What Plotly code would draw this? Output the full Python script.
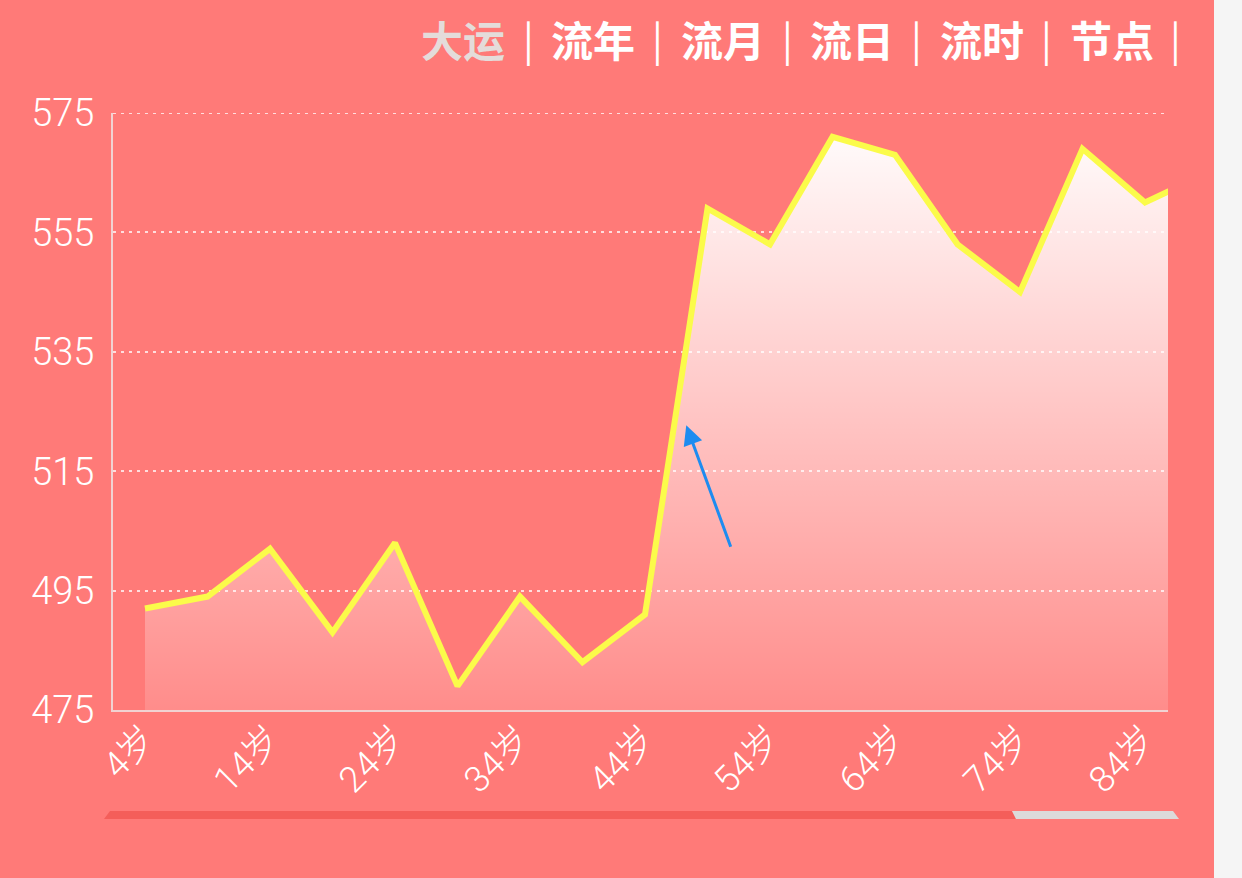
import plotly.graph_objects as go

# ages shown on the axis (one point every 5 years) and the score at each
ages = [4, 9, 14, 19, 24, 29, 34, 39, 44, 49, 54, 59, 64, 69, 74, 79, 84, 89]
scores = [492, 494, 502, 488, 503, 479, 494, 483, 491, 559, 553, 571, 568, 553, 545, 569, 560, 565]

tick_ages = [4, 14, 24, 34, 44, 54, 64, 74, 84]
tick_labels = [f"{a}岁" for a in tick_ages]
y_ticks = [475, 495, 515, 535, 555, 575]

tabs = ["大运", "流年", "流月", "流日", "流时", "节点"]

W, H = 1242, 878
L, R, T, B = 113, 74, 113, 168
BG = "#FF7A78"
GRID = "rgba(255,255,255,0.75)"
GRID_DASH = "3px,5px"


def px(x):
    # page pixel -> paper x
    return (x - L) / (W - L - R)


def py(y):
    # page pixel -> paper y
    return (H - B - y) / (H - T - B)


fig = go.Figure()

fig.add_trace(go.Scatter(
    x=ages,
    y=scores,
    mode="lines",
    line=dict(color="#FBFB4A", width=6),
    fill="tozeroy",
    fillgradient=dict(
        type="vertical",
        start=475,
        stop=575,
        colorscale=[[0, "rgba(255,255,255,0.14)"], [1, "rgba(255,255,255,1)"]],
    ),
    hoverinfo="x+y",
    showlegend=False,
))

# header tabs
annotations = []
for i, t in enumerate(tabs):
    annotations.append(dict(
        x=px(463 + i * 129.8), y=py(38), xref="paper", yref="paper",
        text=t, showarrow=False, xanchor="center", yanchor="middle",
        font=dict(family="Noto Sans CJK SC", size=42,
                  color="#E4DCDA" if i == 0 else "#FFFFFF", weight="bold"),
    ))
    annotations.append(dict(
        x=px(528 + i * 129.5), y=py(38), xref="paper", yref="paper",
        text="|", showarrow=False, xanchor="center", yanchor="middle",
        font=dict(family="Noto Sans CJK SC", size=40, color="#FFFFFF"),
    ))

# blue arrow pointing at the jump
annotations.append(dict(
    x=47.3, y=522.7, xref="x", yref="y", ax=45, ay=123,
    text="", showarrow=True, arrowhead=2, arrowsize=1.3, arrowwidth=3,
    arrowcolor="#1E8CF0",
))

shapes = [
    # top grid line (plotly skips the one on the range edge)
    dict(type="line", xref="paper", yref="y", x0=0, x1=1,
         y0=y_ticks[-1], y1=y_ticks[-1], layer="below",
         line=dict(color=GRID, width=2, dash=GRID_DASH)),
    # zoom slider
    dict(type="path", xref="paper", yref="paper", layer="above",
         path=f"M {px(104)},{py(819)} L {px(110)},{py(811)} L {px(1012)},{py(811)} "
              f"L {px(1016)},{py(819)} Z",
         fillcolor="#F45E5A", line=dict(width=0)),
    dict(type="path", xref="paper", yref="paper", layer="above",
         path=f"M {px(1012)},{py(811)} L {px(1173)},{py(811)} L {px(1179)},{py(819)} "
              f"L {px(1016)},{py(819)} Z",
         fillcolor="#DCDADA", line=dict(width=0)),
    # grey strip on the right edge
    dict(type="rect", xref="paper", yref="paper", layer="above",
         x0=px(1214), x1=px(1250), y0=py(H + 10), y1=py(-10),
         fillcolor="#F5F5F5", line=dict(width=0)),
]

fig.update_layout(
    width=W, height=H,
    margin=dict(l=L, r=R, t=T, b=B),
    paper_bgcolor=BG,
    plot_bgcolor=BG,
    font=dict(family="Liberation Sans", color="#FFFFFF"),
    annotations=annotations,
    shapes=shapes,
    xaxis=dict(
        range=[1.44, 85.84],
        tickmode="array", tickvals=tick_ages, ticktext=tick_labels,
        tickangle=-45, tickfont=dict(size=36, color="#FFFFFF",
                                     family="Roboto, Noto Sans CJK SC", weight=300),
        showgrid=False, zeroline=False,
        showline=True, linecolor="rgba(240,215,215,0.95)", linewidth=2,
        ticks="", ticklabelstandoff=-9,
    ),
    yaxis=dict(
        range=[475, 575],
        tickmode="array", tickvals=y_ticks,
        tickfont=dict(size=38, color="#FFFFFF", family="Roboto", weight=300),
        showgrid=True, gridcolor=GRID, gridwidth=2,
        griddash=GRID_DASH,
        zeroline=False,
        showline=True, linecolor="rgba(240,215,215,0.95)", linewidth=2,
        ticks="", ticklabelstandoff=9,
    ),
)

# drop the browser's default 8px body margin so the figure fills the window
fig.write_html("out.html", config={"displayModeBar": False},
               post_script="document.body.style.margin='0';")
